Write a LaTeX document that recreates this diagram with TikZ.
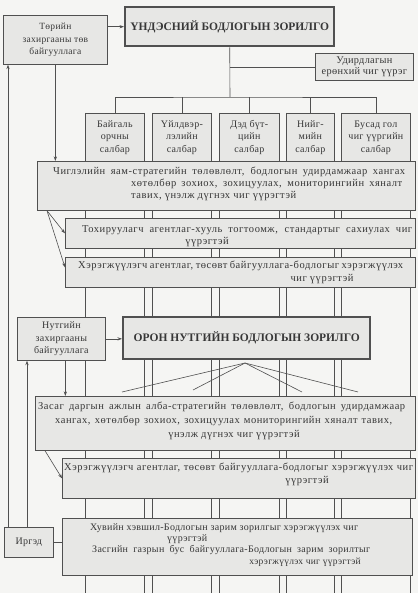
\documentclass[tikz,border=0pt]{standalone}
\usepackage{fontspec}
\setmainfont{Liberation Serif}
\newfontfamily\bodyfont[LetterSpace=3]{Liberation Serif}
\newfontfamily\widefont[LetterSpace=5]{Liberation Serif}
\usetikzlibrary{arrows.meta}
\definecolor{bgc}{RGB}{245,245,243}
\definecolor{boxc}{RGB}{231,231,229}
\definecolor{linec}{RGB}{80,80,80}
\definecolor{txtc}{RGB}{55,55,55}
\newcommand{\jline}[2]{\makebox[#1][s]{#2}}
\tikzset{
  box/.style={draw=linec, fill=boxc, line width=0.7pt, inner sep=0pt, anchor=north west, align=center, text=txtc, font=\bodyfont\fontsize{10}{12.5}\selectfont},
  tbox/.style={box, line width=2.4pt, font=\bfseries\fontsize{11.5}{13}\selectfont},
  tx/.style={inner sep=0pt, text=txtc, font=\widefont\fontsize{10.5}{12}\selectfont},
  txs/.style={inner sep=0pt, text=txtc, font=\bodyfont\fontsize{10}{12}\selectfont},
  ln/.style={draw=linec, line width=0.6pt},
  arr/.style={ln, -{Stealth[length=4.5pt,width=3.2pt]}},
}
\begin{document}
\begin{tikzpicture}[x=1pt,y=-1pt]
\useasboundingbox (0,0) rectangle (418,593);
\fill[bgc] (0,0) rectangle (418,593);
\coordinate (bottom) at (0,593);
\coordinate (bus) at (230,97);
% sector boxes
\node[box, minimum width=59pt, minimum height=48pt] (b1) at (85,113) {Байгаль\\орчны\\салбар};
\node[box, minimum width=59pt, minimum height=48pt] (b2) at (152,113) {Үйлдвэр-\\лэлийн\\салбар};
\node[box, minimum width=60pt, minimum height=48pt] (b3) at (219,113) {Дэд бүт-\\цийн\\салбар};
\node[box, minimum width=48pt, minimum height=48pt] (b4) at (286,113) {Нийг-\\мийн\\салбар};
\node[box, minimum width=69pt, minimum height=48pt] (b5) at (341,113) {Бусад гол\\чиг үүргийн\\салбар};
% column lines
\foreach \n in {b1,b2,b3,b4,b5}{
  \draw[ln] (\n.north west) -- (\n.north west |- bottom);
  \draw[ln] (\n.north east) -- (\n.north east |- bottom);
}
% top part
\node[box, minimum width=104pt, minimum height=49pt, font=\bodyfont\fontsize{9.5}{12.5}\selectfont] (toriin) at (3,15) {Төрийн\\захиргааны төв\\байгууллага};
\node[tbox, minimum width=209pt, minimum height=39pt] (title) at (124,6) {ҮНДЭСНИЙ БОДЛОГЫН ЗОРИЛГО};
\node[box, minimum width=98pt, minimum height=27pt, font=\bodyfont\fontsize{10.3}{10.5}\selectfont] (udir) at (315,53) {Удирдлагын\\ерөнхий чиг үүрэг};
\draw[arr] (title.west -| toriin.east) -- (title.west);
\draw[ln] (title.south) -- (bus);
\draw[ln] (title.south |- udir.west) -- (udir.west);
\draw[ln] (b1.north) |- (bus) -| (b5.north);
\foreach \n in {b2,b3,b4}{ \draw[ln] (\n.north) -- (\n.north |- bus); }
% national level boxes
\node[box, minimum width=378pt, minimum height=49pt] (w1) at (37,161) {};
\node[tx, anchor=west] (w1a) at (53,172) {\jline{352pt}{Чиглэлийн яам-стратегийн төлөвлөлт, бодлогын удирдамжаар хангах}};
\node[tx, anchor=west] (w1b) at (131,184) {\jline{271pt}{хөтөлбөр зохиох, зохицуулах, мониторингийн хяналт}};
\node[tx, anchor=west] (w1c) at (131,196) {тавих, үнэлж дүгнэх чиг үүрэгтэй};
\node[box, minimum width=350pt, minimum height=30pt] (toh) at (65,218) {};
\node[tx, anchor=west] (toha) at (82,230) {\jline{330pt}{Тохируулагч агентлаг-хууль тогтоомж, стандартыг сахиулах чиг}};
\node[tx] (tohb) at (207,242) {үүрэгтэй};
\node[box, minimum width=350pt, minimum height=30pt] (hers1) at (65,257) {};
\node[tx, anchor=west] (hers1a) at (78,266) {\jline{325pt}{Хэрэгжүүлэгч агентлаг, төсөвт байгууллага-бодлогыг хэрэгжүүлэх}};
\node[tx] (hers1b) at (322,279) {чиг үүрэгтэй};
\draw[arr] (toriin.south) -- (toriin.south |- w1.north);
\draw[arr] ([xshift=10pt]w1.south west) -- (toh.west);
\draw[arr] ([xshift=10pt]w1.south west) -- ([yshift=5pt]hers1.west);
% local level
\node[box, minimum width=88pt, minimum height=43pt] (nut) at (17,317) {Нутгийн\\захиргааны\\байгууллага};
\node[tbox, minimum width=247pt, minimum height=42pt] (oron) at (122,316) {ОРОН НУТГИЙН БОДЛОГЫН ЗОРИЛГО};
\draw[arr] (nut.east) -- (nut.east -| oron.west);
\coordinate (apex) at (245,363);
\coordinate (f1) at (122,392);
\coordinate (f2) at (193,390);
\coordinate (f3) at (302,392);
\coordinate (f4) at (358,392);
\foreach \f in {f1,f2,f3,f4}{ \draw[ln] (apex) -- (\f); }
\node[box, minimum width=380pt, minimum height=54pt] (zasag) at (35,396) {};
\node[tx, anchor=west] (zasaga) at (38,407) {\jline{367pt}{Засаг даргын ажлын алба-стратегийн төлөвлөлт, бодлогын удирдамжаар}};
\node[tx, anchor=west] (zasagb) at (55,421) {\jline{337pt}{хангах, хөтөлбөр зохиох, зохицуулах мониторингийн хяналт тавих,}};
\node[tx] (zasagc) at (234,435) {үнэлж дүгнэх чиг үүрэгтэй};
\node[box, minimum width=353pt, minimum height=40pt] (hers2) at (62,458) {};
\node[tx, anchor=west] (hers2a) at (64,468) {\jline{349pt}{Хэрэгжүүлэгч агентлаг, төсөвт байгууллага-бодлогыг хэрэгжүүлэх чиг}};
\node[tx] (hers2b) at (307,481) {үүрэгтэй};
\node[box, minimum width=350pt, minimum height=57pt] (huv) at (62,518) {};
\node[txs, anchor=west] (huva) at (90,528) {\jline{268pt}{Хувийн хэвшил-Бодлогын зарим зорилгыг хэрэгжүүлэх чиг}};
\node[txs, anchor=west] (huvb) at (167,539) {үүрэгтэй};
\node[txs, anchor=west] (huvc) at (92,550) {\jline{278pt}{Засгийн газрын бус байгууллага-Бодлогын зарим зорилтыг}};
\node[txs, anchor=east, font=\bodyfont\fontsize{9.5}{12}\selectfont] (huvd) at (361,562) {хэрэгжүүлэх чиг үүрэгтэй};
\node[box, minimum width=49pt, minimum height=30pt] (irged) at (4,527) {Иргэд};
\draw[ln] (irged.east) -- (irged.east -| huv.west);
\draw[arr] (nut.south) ++(4pt,0) coordinate (nd) -- (nd |- zasag.north);
\draw[arr] ([xshift=10pt]zasag.south west) -- (hers2.west);
\draw[arr] ([xshift=4pt]irged.north west) coordinate (ia) -- (ia |- toriin.south);
\draw[arr] ([xshift=23pt]irged.north west) coordinate (ib) -- (ib |- nut.south);
\end{tikzpicture}
\end{document}
